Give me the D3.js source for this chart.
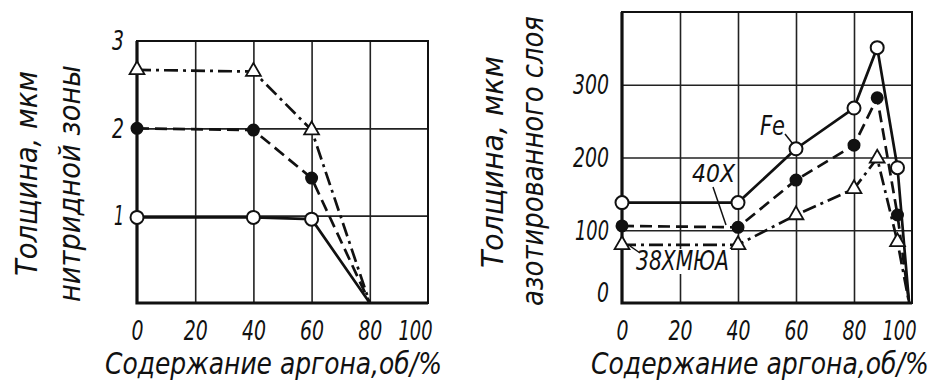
<!DOCTYPE html>
<html>
<head>
<meta charset="utf-8">
<script src="https://cdn.jsdelivr.net/npm/d3@7/dist/d3.min.js"></script>
<style>
  body { margin: 0; background: #fff; }
  text {
    font-family: "Liberation Sans Narrow", "DejaVu Sans Condensed", "DejaVu Sans", sans-serif;
    font-style: italic;
    fill: #111;
  }
</style>
</head>
<body>
<div id="chart"></div>
<script>
// ---- data ----
// left panel: thickness of nitride zone, um
let argonLeft = [0, 40, 60, 80];
let nitrideOpen = [0.98, 0.98, 0.96, 0];
let nitrideFilled = [2.0, 1.98, 1.43, 0];
let nitrideTriangle = [2.67, 2.65, 1.98, 0];
let leftYTicks = [1, 2, 3];

// right panel: thickness of nitrided layer, um
let argonRight = [0, 40, 60, 80, 88, 95, 99];
let layerFe = [138, 138, 212, 268, 351, 186, 0];
let layer40X = [106, 104, 169, 217, 282, 121, 0];
let layer38 = [80, 80, 121, 157, 199, 84, 0];
let rightYTicks = [0, 100, 200, 300];

let xTicks = [0, 20, 40, 60, 80, 100];
let xTitle = "Содержание аргона,об/%";

let W = 941, H = 385;

let svg = d3.select("#chart")
  .append("svg")
  .attr("width", W)
  .attr("height", H);

svg.append("rect").attr("width", W).attr("height", H).attr("fill", "#fff");

let dashed = "12,6";
let dashDot = "14,5,3,5";

// narrow digits like the drawing font
function digitLen(d) {
  let s = String(d);
  return s.length * 12 - (s[0] === "1" ? 2 : 0);
}

// squeeze a text horizontally to a given length (keeps bbox honest)
function fitText(t, x, y, len, rot) {
  let w = t.node().getComputedTextLength();
  let k = len / w;
  t.attr("transform", "translate(" + x + "," + y + ")" + (rot ? " rotate(-90)" : "") + " scale(" + k + ",1)");
}

function drawPanel(p) {
  let x = d3.scaleLinear().domain([0, 100]).range([p.left, p.right]);
  let y = d3.scaleLinear().domain([0, p.yMax]).range([p.bottom, p.top]);
  let g = svg.append("g");

  // grid
  g.append("g")
    .attr("transform", "translate(0," + p.bottom + ")")
    .call(d3.axisBottom(x).tickValues([20, 40, 60, 80]).tickSize(-(p.bottom - p.top)).tickFormat(""))
    .call(s => s.select(".domain").remove())
    .selectAll("line").attr("stroke", "#222").attr("stroke-width", 1.6);

  g.append("g")
    .attr("transform", "translate(" + p.left + ",0)")
    .call(d3.axisLeft(y).tickValues(p.grid).tickSize(-(p.right - p.left)).tickFormat(""))
    .call(s => s.select(".domain").remove())
    .selectAll("line").attr("stroke", "#222").attr("stroke-width", 1.6);

  // frame
  g.append("rect")
    .attr("x", p.left).attr("y", p.top)
    .attr("width", p.right - p.left).attr("height", p.bottom - p.top)
    .attr("fill", "none").attr("stroke", "#111").attr("stroke-width", 2);
  g.append("path")
    .attr("d", "M" + p.left + "," + p.top + "V" + p.bottom + "H" + p.right)
    .attr("fill", "none").attr("stroke", "#111").attr("stroke-width", 3.2);

  // x tick labels
  let xa = g.append("g")
    .attr("transform", "translate(0," + p.bottom + ")")
    .call(d3.axisBottom(x).tickValues(xTicks).tickSize(0).tickPadding(19).tickFormat(d3.format("d")));
  xa.select(".domain").remove();
  xa.selectAll("text")
    .attr("font-size", 26).attr("fill", "#111")
    .attr("dx", d => (d === 100 ? -13 : 0))
    .attr("textLength", digitLen).attr("lengthAdjust", "spacingAndGlyphs");

  // y tick labels
  let ya = g.append("g")
    .attr("transform", "translate(" + p.left + ",0)")
    .call(d3.axisLeft(y).tickValues(p.yTicks).tickSize(0).tickPadding(13).tickFormat(d3.format("d")));
  ya.select(".domain").remove();
  ya.selectAll("text")
    .attr("font-size", 26).attr("fill", "#111")
    .attr("dy", d => (d === 0 ? "-0.05em" : "0.34em"))
    .attr("textLength", digitLen).attr("lengthAdjust", "spacingAndGlyphs");

  // x title
  let xt = g.append("text").attr("font-size", 31).text(xTitle);
  fitText(xt, p.titleX, 374, p.titleLen, false);

  // y title, two lines
  p.yTitle.forEach(t => {
    let yt = g.append("text").attr("font-size", 31).text(t.text);
    fitText(yt, t.x, t.y, t.len, true);
  });

  // series
  p.series.forEach(s => {
    let pts = s.values.map((v, i) => [x(p.xs[i]), y(v)]);
    g.append("path")
      .datum(pts)
      .attr("fill", "none")
      .attr("stroke", "#111")
      .attr("stroke-width", 2.7)
      .attr("stroke-dasharray", s.dash)
      .attr("d", d3.line());

    let marks = pts.slice(0, pts.length - 1);
    if (s.marker === "triangle") {
      g.selectAll(null).data(marks).enter()
        .append("path")
        .attr("transform", d => "translate(" + d[0] + "," + d[1] + ")")
        .attr("d", d3.symbol().type(d3.symbolTriangle).size(95))
        .attr("fill", "#fff").attr("stroke", "#111").attr("stroke-width", 1.8);
    } else {
      g.selectAll(null).data(marks).enter()
        .append("circle")
        .attr("cx", d => d[0]).attr("cy", d => d[1])
        .attr("r", s.marker === "open" ? 6.5 : 5.5)
        .attr("fill", s.marker === "open" ? "#fff" : "#111")
        .attr("stroke", "#111").attr("stroke-width", 2);
    }
  });

  return { x: x, y: y, g: g };
}

// left panel
drawPanel({
  left: 137, right: 428, top: 41, bottom: 303, yMax: 3,
  grid: [1, 2], yTicks: leftYTicks, xs: argonLeft,
  titleX: 105, titleLen: 337,
  yTitle: [
    { text: "Толщина, мкм", x: 37, y: 276, len: 205 },
    { text: "нитридной зоны", x: 80, y: 302, len: 237 }
  ],
  series: [
    { values: nitrideOpen, dash: null, marker: "open" },
    { values: nitrideFilled, dash: dashed, marker: "filled" },
    { values: nitrideTriangle, dash: dashDot, marker: "triangle" }
  ]
});

// right panel
let right = drawPanel({
  left: 622, right: 912, top: 12, bottom: 303, yMax: 400,
  grid: [100, 200, 300], yTicks: rightYTicks, xs: argonRight,
  titleX: 591, titleLen: 338,
  yTitle: [
    { text: "Толщина, мкм", x: 503, y: 268, len: 212 },
    { text: "азотированного слоя", x: 543, y: 306, len: 290 }
  ],
  series: [
    { values: layerFe, dash: null, marker: "open" },
    { values: layer40X, dash: dashed, marker: "filled" },
    { values: layer38, dash: dashDot, marker: "triangle" }
  ]
});

// steel labels with leaders
let rg = right.g;
rg.append("rect").attr("x", 634).attr("y", 249).attr("width", 97).attr("height", 25).attr("fill", "#fff");
rg.append("text").attr("x", 636).attr("y", 270).attr("font-size", 26)
  .attr("textLength", 93).attr("lengthAdjust", "spacingAndGlyphs").text("38ХМЮА");
rg.append("line").attr("x1", 630).attr("y1", 246).attr("x2", 640).attr("y2", 253)
  .attr("stroke", "#111").attr("stroke-width", 1.5);

rg.append("text").attr("x", 692).attr("y", 182).attr("font-size", 24)
  .attr("textLength", 43).attr("lengthAdjust", "spacingAndGlyphs").text("40X");
rg.append("line").attr("x1", 713).attr("y1", 187).attr("x2", 726).attr("y2", 225)
  .attr("stroke", "#111").attr("stroke-width", 1.5);

rg.append("text").attr("x", 760).attr("y", 135).attr("font-size", 27)
  .attr("textLength", 25).attr("lengthAdjust", "spacingAndGlyphs").text("Fe");
rg.append("line").attr("x1", 785).attr("y1", 134).attr("x2", 793).attr("y2", 144)
  .attr("stroke", "#111").attr("stroke-width", 1.5);
</script>
</body>
</html>
